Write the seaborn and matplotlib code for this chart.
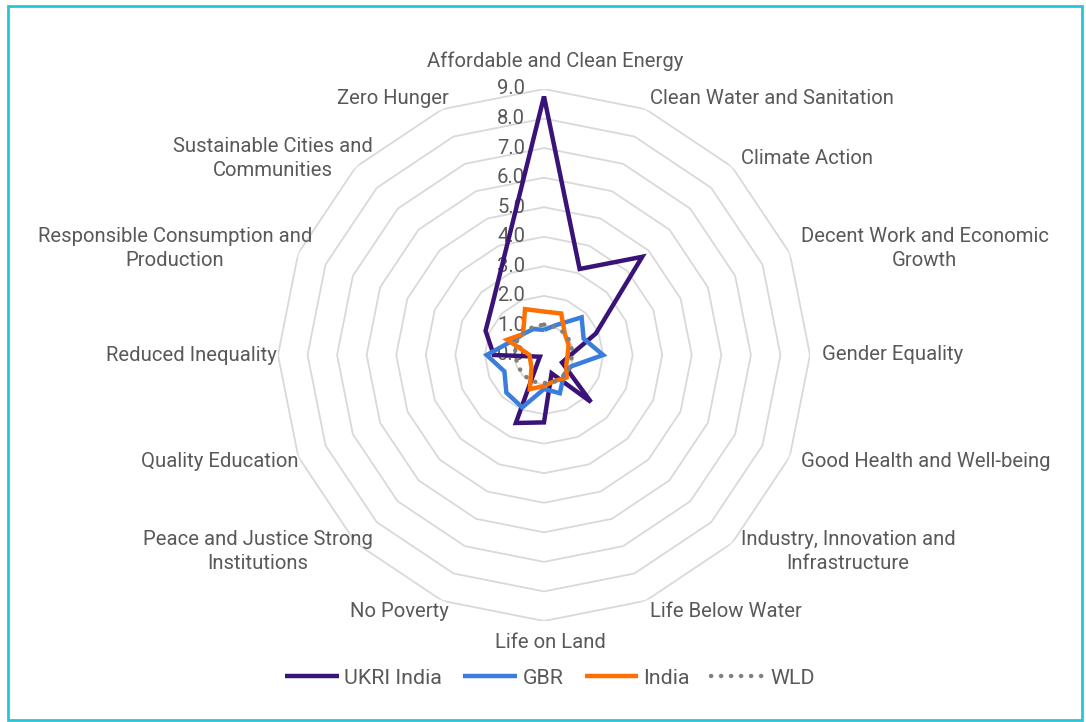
import numpy as np
import pandas as pd
import matplotlib
matplotlib.use("Agg")
import matplotlib.pyplot as plt
from matplotlib.patches import Rectangle
import seaborn as sns

categories = [
    "Affordable and Clean Energy", "Clean Water and Sanitation", "Climate Action",
    "Decent Work and Economic\nGrowth", "Gender Equality", "Good Health and Well-being",
    "Industry, Innovation and\nInfrastructure", "Life Below Water", "Life on Land",
    "No Poverty", "Peace and Justice Strong\nInstitutions", "Quality Education",
    "Reduced Inequality", "Responsible Consumption and\nProduction",
    "Sustainable Cities and\nCommunities", "Zero Hunger",
]
ukri_india = [8.75, 3.15, 4.7, 1.9, 0.9, 0.66, 2.25, 0.67, 2.28, 2.49, 0.27, 0.15, 1.7, 2.14, 2.46, 3.55]
gbr = [0.85, 1.1, 1.8, 1.45, 2.0, 1.0, 0.95, 1.4, 1.15, 1.92, 1.8, 1.45, 1.94, 1.2, 1.0, 0.95]
india = [1.47, 1.52, 1.0, 0.9, 0.8, 0.82, 1.08, 0.95, 1.05, 1.25, 0.6, 0.5, 0.49, 1.35, 1.0, 1.68]
wld = [1.03, 1.03, 1.02, 1.0, 0.95, 0.95, 0.98, 0.97, 0.95, 0.97, 0.97, 0.96, 0.97, 1.05, 1.02, 1.02]
series_names = ["UKRI India", "GBR", "India", "WLD"]
tick_values = [0.0, 1.0, 2.0, 3.0, 4.0, 5.0, 6.0, 7.0, 8.0, 9.0]

colors = {"UKRI India": "#3a1378", "GBR": "#3b7ddd", "India": "#ff6f00", "WLD": "#808080"}

sns.set_theme(style="white")
plt.rcParams["font.family"] = ["Roboto", "DejaVu Sans"]
text_color = "#595959"
fs = 14.6

W, H = 1086, 722
fig = plt.figure(figsize=(W / 100, H / 100), dpi=100)
fig.patch.set_facecolor("white")
cx, cy, R = 544, 355, 266
ax = fig.add_axes([(cx - R) / W, (H - cy - R) / H, 2 * R / W, 2 * R / H], projection="polar")
ax.set_theta_zero_location("N")
ax.set_theta_direction(-1)
ax.set_ylim(0, max(tick_values))
ax.grid(False)
ax.set_xticks([])
ax.set_yticks([])
ax.spines["polar"].set_visible(False)
ax.set_facecolor("none")

n = len(categories)
theta = np.linspace(0, 2 * np.pi, n, endpoint=False)
theta_closed = np.append(theta, 2 * np.pi)

# polygon grid
for v in tick_values[1:]:
    ax.plot(theta_closed, [v] * (n + 1), color="#d9d9d9", lw=1.3, zorder=1)

data = {"UKRI India": ukri_india, "GBR": gbr, "India": india, "WLD": wld}
handles = []
for i, name in enumerate(series_names):
    vals = data[name]
    df = pd.DataFrame({"theta": theta_closed, "value": vals + vals[:1]})
    kw = dict(color=colors[name], lw=3.2, zorder=3 + i)
    if name == "WLD":
        kw.update(lw=3.2, linestyle=(0, (0.05, 2.2)), dash_capstyle="round")
    else:
        kw.update(solid_joinstyle="miter", solid_capstyle="butt")
    sns.lineplot(data=df, x="theta", y="value", ax=ax, sort=False, estimator=None, legend=False, **kw)
    handles.append(ax.lines[-1])
ax.set_xlabel("")
ax.set_ylabel("")

# category labels
for t, lab in zip(theta, categories):
    s, c = np.sin(t), np.cos(t)
    ha = "left" if s > 0.1 else ("right" if s < -0.1 else "center")
    dx, dy = 12 * s, 12 * c
    if abs(s) <= 0.1:
        va = "bottom" if c > 0 else "top"
        if c > 0:
            dx += 11
            dy += 6
        else:
            dx += 6
    else:
        va = "center"
        if s < -0.1:
            dx += 25 if "\n" in lab else 11
    ax.annotate(lab, xy=(t, max(tick_values)), xytext=(dx, dy), textcoords="offset pixels",
                ha=ha, va=va, multialignment="center", fontsize=fs, color=text_color, zorder=10,
                linespacing=1.3)

# radial tick labels
for v in tick_values:
    ax.annotate(f"{v:.1f}", xy=(0, v), xytext=(-19, 0), textcoords="offset pixels",
                ha="right", va="center", fontsize=fs, color=text_color, zorder=2)

leg = fig.legend(handles, series_names, loc="center", bbox_to_anchor=(550 / W, 1 - 678 / H), ncol=4,
                 frameon=False, handlelength=2.5, columnspacing=1.0, handletextpad=0.25, fontsize=fs + 0.8)
for t in leg.get_texts():
    t.set_color(text_color)

fig.patches.append(Rectangle((8 / W, 2 / H), (1082 - 8) / W, (716 - 2) / H, transform=fig.transFigure,
                             fill=False, edgecolor="#26c6da", lw=2))

fig.savefig("out.png", dpi=100)
